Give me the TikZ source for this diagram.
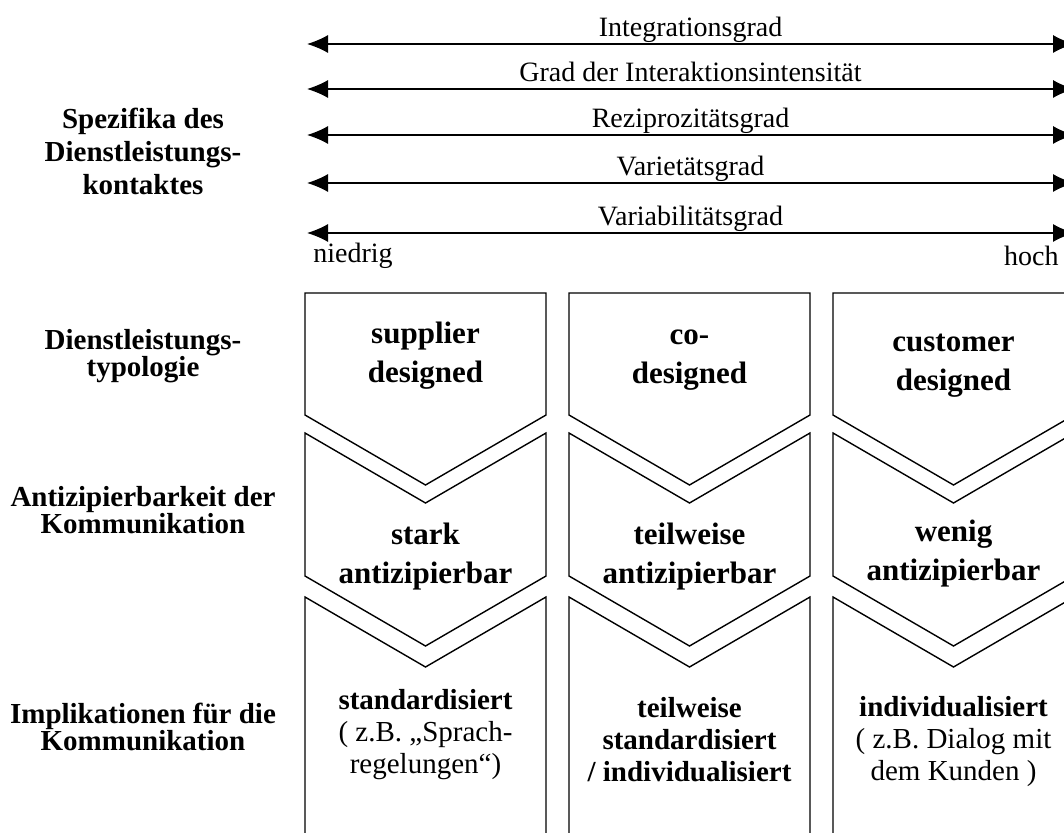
\documentclass[tikz,border=0pt]{standalone}
\usepackage{fontspec}
\setmainfont{Liberation Serif}
\usetikzlibrary{arrows.meta}

\tikzset{
  arr/.style={{Latex[length=10.5pt,width=9pt]}-{Latex[length=10.5pt,width=9pt]}, line width=0.6pt},
  grad/.style={anchor=base, yshift=3.75pt, inner sep=0pt, font=\fontsize{14}{16}\selectfont},
  feld/.style={line width=0.7pt, line join=miter},
  typ/.style={align=center, inner sep=0pt, font=\fontsize{15.5}{19.5}\selectfont\bfseries},
  impl/.style={align=center, inner sep=0pt, font=\fontsize{14.5}{16}\selectfont},
  zeile/.style={align=center, inner sep=0pt, font=\fontsize{14.5}{13.5}\selectfont\bfseries},
}

\begin{document}
\begin{tikzpicture}[x=0.5pt, y=-0.5pt]
    \useasboundingbox (0,0) rectangle (1064,833);

    % Skalen
    \coordinate (a1) at (307,44);  \coordinate (b1) at (1074,44);
    \coordinate (a2) at (307,89);  \coordinate (b2) at (1074,89);
    \coordinate (a3) at (307,135); \coordinate (b3) at (1074,135);
    \coordinate (a4) at (307,183); \coordinate (b4) at (1074,183);
    \coordinate (a5) at (307,233); \coordinate (b5) at (1074,233);

    \draw[arr] (a1) -- node[grad] {Integrationsgrad} (b1);
    \draw[arr] (a2) -- node[grad] {Grad der Interaktionsintensität} (b2);
    \draw[arr] (a3) -- node[grad] {Reziprozitätsgrad} (b3);
    \draw[arr] (a4) -- node[grad] {Varietätsgrad} (b4);
    \draw[arr] (a5) -- node[grad] {Variabilitätsgrad} (b5);

    \node[grad, anchor=base west, yshift=0pt] (nied) at (313,270) {niedrig};
    \node[grad, anchor=base east, yshift=0pt] (hoch) at (1059,273) {hoch};

    % Zeilenbeschriftung
    \node[zeile, font=\fontsize{14.5}{16.5}\selectfont\bfseries] (z1) at (143,151.5) {Spezifika des\\Dienstleistungs-\\kontaktes};
    \node[zeile] (z2) at (143,356) {Dienstleistungs-\\typologie};
    \node[zeile] (z3) at (143,510) {Antizipierbarkeit der\\Kommunikation};
    \node[zeile] (z4) at (143,726.5) {Implikationen für die\\Kommunikation};

    % Spalte 1
    \draw[feld] (305,293) -- (546,293) -- (546,415) -- (425.5,485) -- (305,415) -- cycle;
    \draw[feld] (305,433) -- (425.5,503) -- (546,433) -- (546,576) -- (425.5,646) -- (305,576) -- cycle;
    \draw[feld] (305,840) -- (305,597) -- (425.5,667) -- (546,597) -- (546,840);
    % Spalte 2
    \draw[feld] (569,293) -- (810,293) -- (810,415) -- (689.5,485) -- (569,415) -- cycle;
    \draw[feld] (569,433) -- (689.5,503) -- (810,433) -- (810,576) -- (689.5,646) -- (569,576) -- cycle;
    \draw[feld] (569,840) -- (569,597) -- (689.5,667) -- (810,597) -- (810,840);
    % Spalte 3
    \draw[feld] (833,293) -- (1074,293) -- (1074,415) -- (953.5,485) -- (833,415) -- cycle;
    \draw[feld] (833,433) -- (953.5,503) -- (1074,433) -- (1074,576) -- (953.5,646) -- (833,576) -- cycle;
    \draw[feld] (833,840) -- (833,597) -- (953.5,667) -- (1074,597) -- (1074,840);

    \node[typ] (t1) at (425.5,355.5) {supplier\\designed};
    \node[typ] (t2) at (689.5,360.5) {co-\\designed};
    \node[typ] (t3) at (953.5,366) {customer\\designed};

    \node[typ] (k1) at (425.5,556.5) {stark\\antizipierbar};
    \node[typ] (k2) at (689.5,556.5) {teilweise\\antizipierbar};
    \node[typ] (k3) at (953.5,554) {wenig\\antizipierbar};

    \node[impl] (i1) at (425.5,734.5) {\textbf{standardisiert}\\( z.B. „Sprach-\\regelungen“)};
    \node[impl, font=\fontsize{14.5}{16}\selectfont\bfseries] (i2) at (689.5,739.5) {teilweise\\standardisiert\\/ individualisiert};
    \node[impl] (i3) at (953.5,742) {\textbf{individualisiert}\\( z.B. Dialog mit\\dem Kunden )};
\end{tikzpicture}
\end{document}
